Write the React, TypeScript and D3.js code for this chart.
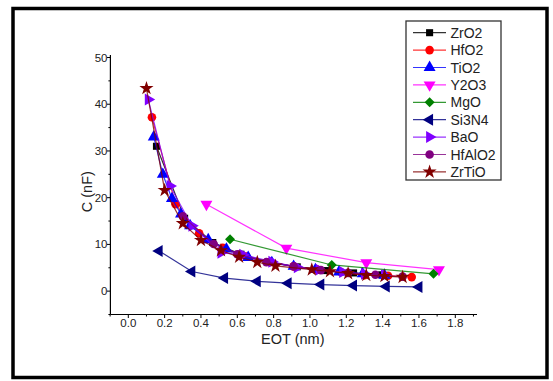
import React from "react";
import * as d3 from "d3";

const xTicks = [0, 0.2, 0.4, 0.6, 0.8, 1.0, 1.2, 1.4, 1.6, 1.8];
const xMinor = [-0.1, 0.1, 0.3, 0.5, 0.7, 0.9, 1.1, 1.3, 1.5, 1.7, 1.9];
const yTicks = [0, 10, 20, 30, 40, 50];
const yMinor = [-5, 5, 15, 25, 35, 45];

const zro2X = [0.155, 0.31, 0.465, 0.62, 0.775, 0.93, 1.085, 1.24, 1.395];
const zro2Y = [31, 15.6, 10.4, 7.9, 6.2, 5.2, 4.4, 3.9, 3.5];
const hfo2X = [0.13, 0.26, 0.39, 0.52, 0.65, 0.78, 0.91, 1.04, 1.17, 1.3, 1.43, 1.56];
const hfo2Y = [37.2, 18.6, 12.4, 9.3, 7.4, 6.2, 5.3, 4.6, 4.1, 3.4, 3.3, 3.0];
const tio2X = [0.14, 0.19, 0.24, 0.29, 0.34, 0.44, 0.54, 0.66, 0.79, 0.91, 1.03, 1.16, 1.29, 1.41];
const tio2Y = [33, 25, 19.8, 16.5, 14, 11, 9, 7.2, 6.1, 5.3, 4.6, 4.1, 3.7, 3.4];
const y2o3X = [0.43, 0.87, 1.31, 1.71];
const y2o3Y = [18.6, 9.2, 6.1, 4.6];
const mgoX = [0.56, 1.12, 1.68];
const mgoY = [11.1, 5.6, 3.7];
const si3n4X = [0.17, 0.35, 0.53, 0.71, 0.88, 1.06, 1.24, 1.42, 1.6];
const si3n4Y = [8.6, 4.2, 2.8, 2.1, 1.7, 1.4, 1.2, 1.0, 0.9];
const baoX = [0.11, 0.23, 0.35, 0.51, 0.63, 0.79, 0.93, 1.05, 1.18, 1.3, 1.41];
const baoY = [41, 22.5, 14, 8.2, 7.8, 6.3, 5.1, 4.6, 4.1, 3.7, 3.4];
const hfalo2X = [0.3, 0.47, 0.6, 0.76, 0.91, 1.06, 1.21, 1.36, 1.51];
const hfalo2Y = [16, 10.1, 7.9, 6.2, 5.3, 4.5, 3.9, 3.5, 3.1];
const zrtioX = [0.1, 0.2, 0.3, 0.4, 0.51, 0.61, 0.71, 0.81, 1.01, 1.11, 1.21, 1.31, 1.41, 1.51];
const zrtioY = [43.4, 21.6, 14.5, 10.9, 8.7, 7.3, 6.2, 5.4, 4.6, 4.2, 3.8, 3.4, 3.2, 3.0];

type Series = { name: string; xs: number[]; ys: number[]; color: string; marker: string };

const series: Series[] = [
  { name: "ZrO2", xs: zro2X, ys: zro2Y, color: "#000000", marker: "square" },
  { name: "HfO2", xs: hfo2X, ys: hfo2Y, color: "#ff0000", marker: "circle" },
  { name: "TiO2", xs: tio2X, ys: tio2Y, color: "#0000ff", marker: "up" },
  { name: "Y2O3", xs: y2o3X, ys: y2o3Y, color: "#ff00ff", marker: "down" },
  { name: "MgO", xs: mgoX, ys: mgoY, color: "#008000", marker: "diamond" },
  { name: "Si3N4", xs: si3n4X, ys: si3n4Y, color: "#000080", marker: "left" },
  { name: "BaO", xs: baoX, ys: baoY, color: "#8000ff", marker: "right" },
  { name: "HfAlO2", xs: hfalo2X, ys: hfalo2Y, color: "#800080", marker: "circle" },
  { name: "ZrTiO", xs: zrtioX, ys: zrtioY, color: "#800000", marker: "star" },
];

const x = d3.scaleLinear().domain([0, 1.8]).range([128.3, 455.3]);
const y = d3.scaleLinear().domain([-5, 50]).range([314.5, 57.5]);

function markerPath(m: string): { d: string; rot: number } {
  const tri = d3.symbol().type(d3.symbolTriangle).size(62)()!;
  switch (m) {
    case "square":
      return { d: d3.symbol().type(d3.symbolSquare).size(50)()!, rot: 0 };
    case "circle":
      return { d: d3.symbol().type(d3.symbolCircle).size(58)()!, rot: 0 };
    case "up":
      return { d: tri, rot: 0 };
    case "down":
      return { d: tri, rot: 180 };
    case "left":
      return { d: tri, rot: -90 };
    case "right":
      return { d: tri, rot: 90 };
    case "diamond":
      return { d: d3.symbol().type(d3.symbolSquare).size(50)()!, rot: 45 };
    case "star":
      return { d: d3.symbol().type(d3.symbolStar).size(62)()!, rot: 0 };
  }
  return { d: "", rot: 0 };
}

const FONT = "'Liberation Sans', Arial, sans-serif";

export default function App() {
  const line = d3
    .line<[number, number]>()
    .x((p) => x(p[0]))
    .y((p) => y(p[1]));
  const legX = 406;
  const legY = 21;
  const legStep = 17.4;
  return (
    <svg
      width={553}
      height={381}
      style={{ position: "absolute", left: 0, top: 0, background: "#fff" }}
      fontFamily={FONT}
    >
      <rect x={0} y={0} width={553} height={381} fill="#fff" />
      <rect x={13} y={8.5} width={534} height={369} fill="none" stroke="#000" strokeWidth={3.5} />

      {/* axes */}
      <line x1={110.4} y1={55} x2={110.4} y2={y(-5)} stroke="#000" strokeWidth={1.2} />
      <line x1={110.4} y1={y(-5)} x2={477} y2={y(-5)} stroke="#000" strokeWidth={1.2} />
      {yTicks.map((t) => (
        <g key={"yt" + t}>
          <line x1={107} x2={110.4} y1={y(t)} y2={y(t)} stroke="#000" strokeWidth={1} />
          <text x={107.5} y={y(t)} textAnchor="end" dominantBaseline="central" fontSize={11.5} fill="#222">
            {t}
          </text>
        </g>
      ))}
      {yMinor.map((t) => (
        <line key={"ym" + t} x1={108.4} x2={110.4} y1={y(t)} y2={y(t)} stroke="#000" strokeWidth={1} />
      ))}
      {xTicks.map((t) => (
        <g key={"xt" + t}>
          <line x1={x(t)} x2={x(t)} y1={y(-5)} y2={y(-5) + 3.5} stroke="#000" strokeWidth={1} />
          <text x={x(t)} y={y(-5) + 8} textAnchor="middle" dominantBaseline="central" fontSize={11.5} fill="#222">
            {t.toFixed(1)}
          </text>
        </g>
      ))}
      {xMinor.map((t) => (
        <line key={"xm" + t} x1={x(t)} x2={x(t)} y1={y(-5)} y2={y(-5) + 2} stroke="#000" strokeWidth={1} />
      ))}
      <text x={292.8} y={339} textAnchor="middle" dominantBaseline="central" fontSize={14.5} fill="#222">
        EOT (nm)
      </text>
      <text
        transform={`translate(86.5,191.7) rotate(-90)`}
        textAnchor="middle"
        dominantBaseline="central"
        fontSize={14.5}
        fill="#222"
      >
        C (nF)
      </text>

      {/* series */}
      {series.map((s) => {
        const pts = s.xs.map((v, i) => [v, s.ys[i]] as [number, number]);
        const mk = markerPath(s.marker);
        return (
          <g key={s.name}>
            <path d={line(pts)!} fill="none" stroke={s.color} strokeWidth={1.2} strokeOpacity={0.8} />
            {pts.map((p, i) => (
              <path
                key={i}
                d={mk.d}
                transform={`translate(${x(p[0])},${y(p[1])}) rotate(${mk.rot})`}
                fill={s.color}
              />
            ))}
          </g>
        );
      })}

      {/* legend */}
      <rect x={legX} y={legY} width={95} height={159} fill="#fff" stroke="#333" strokeWidth={1.3} />
      {series.map((s, i) => {
        const cy = legY + 11.7 + i * legStep;
        const mk = markerPath(s.marker);
        return (
          <g key={"lg" + s.name}>
            <line x1={413} x2={446} y1={cy} y2={cy} stroke={s.color} strokeWidth={1.2} strokeOpacity={0.8} />
            <path d={mk.d} transform={`translate(429.6,${cy}) rotate(${mk.rot})`} fill={s.color} />
            <text x={450.5} y={cy} dominantBaseline="central" fontSize={14} fill="#222">
              {s.name}
            </text>
          </g>
        );
      })}
    </svg>
  );
}
